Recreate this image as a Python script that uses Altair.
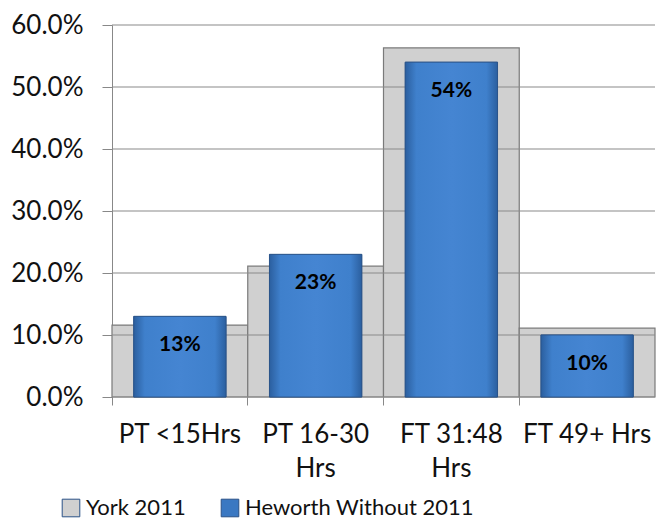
import altair as alt
import pandas as pd

categories = ["PT <15Hrs", "PT 16-30 Hrs", "FT 31:48 Hrs", "FT 49+ Hrs"]
york_2011 = [0.116, 0.211, 0.563, 0.111]
heworth_2011 = [0.13, 0.23, 0.54, 0.10]
series_names = ["York 2011", "Heworth Without 2011"]
y_ticks = [0.0, 0.1, 0.2, 0.3, 0.4, 0.5, 0.6]

york_df = pd.DataFrame({"cat": categories, "val": york_2011, "series": series_names[0]})
hew_df = pd.DataFrame({"cat": categories, "val": heworth_2011, "series": series_names[1]})
grid_df = pd.DataFrame({"tick": y_ticks})

FONT = "Lato"
W, H = 543, 372

label_expr = ("datum.label == 'PT 16-30 Hrs' ? ['PT 16-30', 'Hrs'] : "
              "datum.label == 'FT 31:48 Hrs' ? ['FT 31:48', 'Hrs'] : datum.label")

x_enc = alt.X("cat:N", sort=categories, title=None,
              scale=alt.Scale(paddingInner=0, paddingOuter=0),
              axis=alt.Axis(labelAngle=0, labelExpr=label_expr, labelFontSize=26,
                            labelColor="#111", labelFont=FONT, labelPadding=16,
                            tickColor="#888", tickSize=8, bandPosition=0,
                            domain=False, labelLineHeight=34))
y_scale = alt.Scale(domain=[0, 0.6], nice=False)
y_enc = alt.Y("val:Q", scale=y_scale, title=None,
              axis=alt.Axis(values=y_ticks, format=".1%", labelFontSize=26,
                            labelColor="#111", labelFont=FONT, grid=False,
                            domainColor="#888", tickColor="#888", tickSize=10,
                            labelPadding=19))

color_scale = alt.Scale(domain=series_names, range=["#d0d0d0", "#3a78c2"])

york = alt.Chart(york_df).mark_bar(stroke="#7a7a7a", strokeWidth=1.2).encode(
    x=x_enc, y=y_enc,
    color=alt.Color("series:N", scale=color_scale, sort=series_names,
                    legend=alt.Legend(title=None, orient="none", direction="horizontal",
                                      legendX=-52, legendY=472,
                                      labelFontSize=22, labelFont=FONT, labelColor="#111",
                                      labelLimit=0,
                                      symbolType="square", symbolSize=310,
                                      symbolStrokeColor="#666", symbolStrokeWidth=1,
                                      columnPadding=33, labelOffset=4)),
)

grid = alt.Chart(grid_df).mark_rule(color="#8a8a8a", strokeWidth=1.2).encode(
    y=alt.Y("tick:Q", scale=y_scale),
    x=alt.value(0), x2=alt.value(W),
)

hew_base = alt.Chart(hew_df).mark_bar(
    width=alt.RelativeBandSize(0.68), stroke="#2a5287", strokeWidth=0.8,
).encode(
    x=alt.X("cat:N", sort=categories), y=alt.Y("val:Q", scale=y_scale),
    color=alt.Color("series:N", scale=color_scale, sort=series_names),
)

grad = alt.Gradient(
    gradient="linear", x1=0, y1=0, x2=1, y2=0,
    stops=[alt.GradientStop(color="#2b5f9f", offset=0),
           alt.GradientStop(color="#3f80cc", offset=0.12),
           alt.GradientStop(color="#4585d2", offset=0.5),
           alt.GradientStop(color="#3f80cc", offset=0.88),
           alt.GradientStop(color="#2b5f9f", offset=1)],
)
hew_grad = alt.Chart(hew_df).mark_bar(
    width=alt.RelativeBandSize(0.68), fill=grad, stroke="#2a5287", strokeWidth=0.8,
).encode(
    x=alt.X("cat:N", sort=categories), y=alt.Y("val:Q", scale=y_scale),
)

labels = alt.Chart(hew_df).mark_text(
    dy=29, baseline="middle", align="center", fontSize=21, fontWeight="bold",
    font=FONT, color="#000",
).encode(
    x=alt.X("cat:N", sort=categories), y=alt.Y("val:Q", scale=y_scale),
    text=alt.Text("val:Q", format=".0%"),
)

chart = alt.layer(york, grid, hew_base, hew_grad, labels).properties(
    width=W, height=H,
    padding={"left": 2, "top": 4, "right": 0, "bottom": 0},
).configure_view(stroke=None).configure_axis(grid=False)

chart.save("out.html", embed_options={"renderer": "svg", "actions": False})
